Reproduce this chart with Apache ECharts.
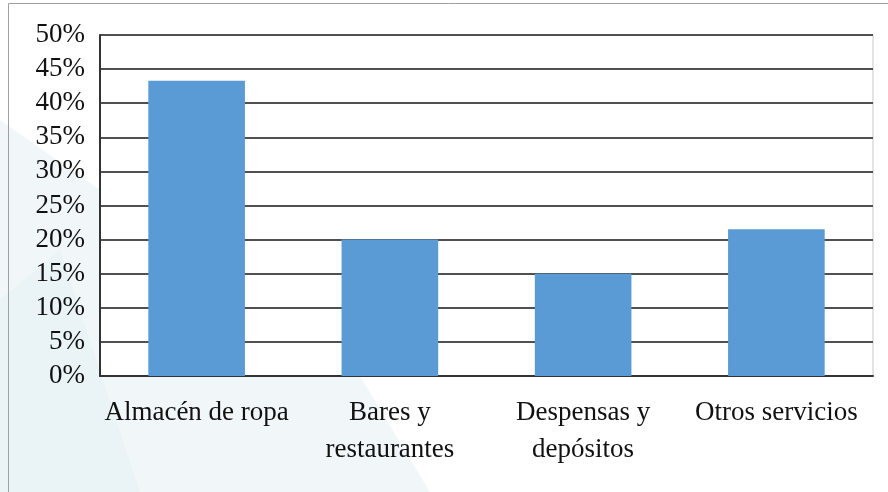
<!DOCTYPE html>
<html>
<head>
<meta charset="utf-8">
<script src="https://cdn.jsdelivr.net/npm/echarts@6/dist/echarts.min.js"></script>
<style>
html,body{margin:0;padding:0;background:#fff;}
#chart{width:888px;height:492px;}
</style>
</head>
<body>
<div id="chart"></div>
<script>
var categories = ['Almacén de ropa', 'Bares y\nrestaurantes', 'Despensas y\ndepósitos', 'Otros servicios'];
var values = [0.433, 0.200, 0.150, 0.215];
var yMin = 0, yMax = 0.5, yStep = 0.05;

var chart = echarts.init(document.getElementById('chart'), null, {renderer: 'canvas'});
var font = 'Liberation Serif';
chart.setOption({
  animation: false,
  backgroundColor: '#ffffff',
  graphic: [
    {type: 'polygon', z: -10, silent: true,
     shape: {points: [[0,120],[100,190],[100,376],[360,376],[430,492],[0,492]]},
     style: {fill: '#f1f7f9', opacity: 1}},
    {type: 'polygon', z: -9, silent: true,
     shape: {points: [[0,300],[60,250],[140,492],[0,492]]},
     style: {fill: '#eaf3f6', opacity: 1}},
    {type: 'line', z: 1, silent: true, shape: {x1: 8.5, y1: 3.5, x2: 888, y2: 3.5},
     style: {stroke: '#a0a0a0', lineWidth: 1}},
    {type: 'line', z: 1, silent: true, shape: {x1: 8.5, y1: 3.5, x2: 8.5, y2: 492},
     style: {stroke: '#a0a0a0', lineWidth: 1}}
  ],
  grid: {
    left: 100, right: 15, top: 35, bottom: 116,
    show: true, backgroundColor: '#ffffff', borderColor: '#c8c8c8', borderWidth: 1
  },
  xAxis: {
    type: 'category',
    data: categories,
    axisTick: {show: false},
    axisLine: {lineStyle: {color: '#333', width: 2}},
    axisLabel: {
      interval: 0, margin: 18, color: '#111',
      fontFamily: font, fontSize: 27, lineHeight: 37
    }
  },
  yAxis: {
    type: 'value',
    min: yMin, max: yMax, interval: yStep,
    axisLine: {show: true, lineStyle: {color: '#333', width: 2}},
    axisTick: {show: false},
    splitLine: {lineStyle: {color: '#505050', width: 2}},
    axisLabel: {
      margin: 15, color: '#111', fontFamily: font, fontSize: 27,
      formatter: function (v) { return Math.round(v * 100) + '%'; }
    }
  },
  series: [{
    type: 'bar',
    data: values,
    barWidth: '50%',
    itemStyle: {color: '#5b9bd5'}
  }]
});
</script>
</body>
</html>
